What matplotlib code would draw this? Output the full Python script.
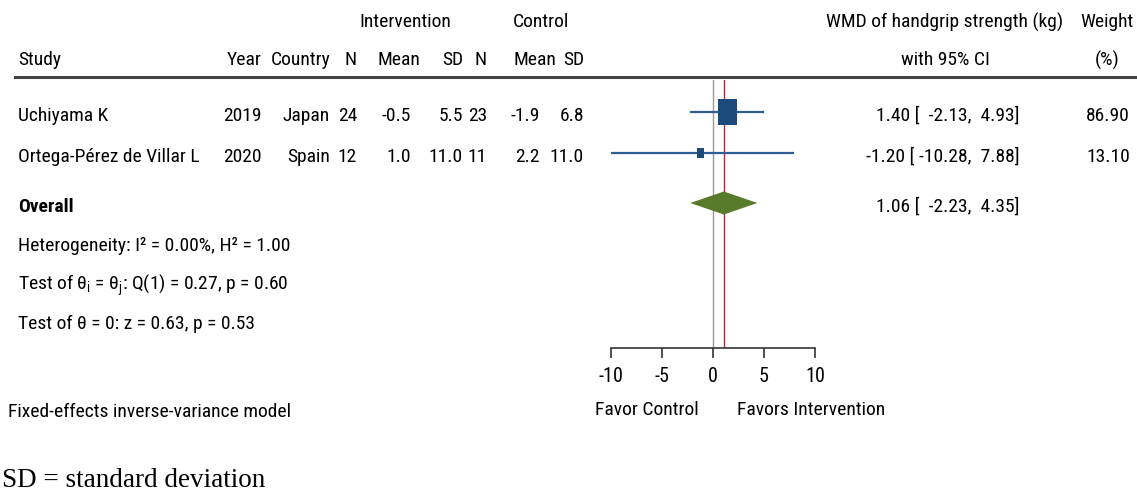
import matplotlib
matplotlib.use("Agg")
import matplotlib.pyplot as plt
from matplotlib.patches import Rectangle, Polygon
from matplotlib import font_manager as fm
import numpy as np

# ---------------- data ----------------
studies = ["Uchiyama K", "Ortega-Pérez de Villar L"]
years = [2019, 2020]
countries = ["Japan", "Spain"]
n_int = [24, 12]
mean_int = [-0.5, 1.0]
sd_int = [5.5, 11.0]
n_ctl = [23, 11]
mean_ctl = [-1.9, 2.2]
sd_ctl = [6.8, 11.0]
wmd = [1.40, -1.20]
ci_lo = [-2.13, -10.28]
ci_hi = [4.93, 7.88]
weights = [86.90, 13.10]
overall = 1.06
overall_lo = -2.23
overall_hi = 4.35
xticks = [-10, -5, 0, 5, 10]
het_text = "Heterogeneity: I² = 0.00%, H² = 1.00"
q_text = r"Test of θ$_\mathregular{i}$ = θ$_\mathregular{j}$: Q(1) = 0.27, p = 0.60"
z_text = "Test of θ = 0: z = 0.63, p = 0.53"
model_text = "Fixed-effects inverse-variance model"
note_text = "SD = standard deviation"

# ---------------- style ----------------
available = set(f.name for f in fm.fontManager.ttflist)
narrow = None
for cand in ["Roboto Condensed", "Liberation Sans Narrow", "Archivo Narrow", "PT Sans Narrow"]:
    if cand in available:
        narrow = cand
        break
FONT = ([narrow] if narrow else []) + ["Liberation Sans", "DejaVu Sans"]
plt.rcParams["font.family"] = FONT
plt.rcParams["mathtext.fontset"] = "custom"
plt.rcParams["mathtext.rm"] = FONT[0]
FS = 14 if narrow else 12

W, H = 1137, 494
fig = plt.figure(figsize=(W / 100, H / 100), dpi=100)
fig.patch.set_facecolor("white")

ax_t = fig.add_axes([0, 0, 1, 1])
ax_t.set_xlim(0, W)
ax_t.set_ylim(H, 0)
ax_t.axis("off")

x0p, x1p = 611, 815
y_top, y_axis = 80, 348
ax = fig.add_axes([x0p / W, 1 - y_axis / H, (x1p - x0p) / W, (y_axis - y_top) / H])
ax.set_xlim(-10, 10)
ax.set_ylim(y_axis, y_top)
ax.patch.set_alpha(0)
for s in ["top", "right", "left"]:
    ax.spines[s].set_visible(False)
ax.spines["bottom"].set_color("#333333")
ax.spines["bottom"].set_linewidth(1.2)
ax.set_yticks([])
ax.set_xticks(xticks)
ax.set_xticklabels([str(t) for t in xticks], fontsize=FS + 0.5)
ax.tick_params(axis="x", length=7, width=1.2, color="#333333", pad=7)

row_y = [112, 153]
overall_y = 203
px_per_unit = (x1p - x0p) / 20.0

ax.axvline(0, color="#999999", lw=1.0, zorder=1)
ax.axvline(overall, color="#c0203a", lw=1.0, zorder=1)

for i in range(len(studies)):
    ax.plot([ci_lo[i], ci_hi[i]], [row_y[i], row_y[i]], color="#2d5f93", lw=1.6, zorder=2)
    side_px = 2.05 * np.sqrt(weights[i])
    wdat = side_px / px_per_unit
    hpx = side_px * 1.4
    ax.add_patch(Rectangle((wmd[i] - wdat / 2, row_y[i] - hpx / 2), wdat, hpx,
                           facecolor="#1c4a7a", edgecolor="none", zorder=3))

dh = 11.5
ax.add_patch(Polygon([[overall_lo, overall_y], [overall, overall_y - dh],
                      [overall_hi, overall_y], [overall, overall_y + dh]],
                     closed=True, facecolor="#587a2b", edgecolor="none", zorder=3))

ax_t.plot([15, W], [77, 77], color="#444444", lw=2.2)

ax_t.text(405, 22, "Intervention", fontsize=FS, ha="center", va="center")
ax_t.text(541, 22, "Control", fontsize=FS, ha="center", va="center")
hy = 60
ax_t.text(18, hy, "Study", fontsize=FS, ha="left", va="center")
col_right = [262, 331, 357, 420, 463, 487, 556, 584]
col_head = ["Year", "Country", "N", "Mean", "SD", "N", "Mean", "SD"]
for x, t in zip(col_right, col_head):
    ax_t.text(x, hy, t, fontsize=FS, ha="right", va="center")
ax_t.text(945, 22, "WMD of handgrip strength (kg)", fontsize=FS, ha="center", va="center")
ax_t.text(945, hy, "with 95% CI", fontsize=FS, ha="center", va="center")
ax_t.text(1107, 22, "Weight", fontsize=FS, ha="center", va="center")
ax_t.text(1107, hy, "(%)", fontsize=FS, ha="center", va="center")

val_right = [262, 330, 357, 411, 463, 487, 540, 584]
for i in range(len(studies)):
    ty = row_y[i] + 4
    ax_t.text(18, ty, studies[i], fontsize=FS, ha="left", va="center")
    vals = [str(years[i]), countries[i], str(n_int[i]), f"{mean_int[i]:.1f}",
            f"{sd_int[i]:.1f}", str(n_ctl[i]), f"{mean_ctl[i]:.1f}", f"{sd_ctl[i]:.1f}"]
    for x, t in zip(val_right, vals):
        ax_t.text(x, ty, t, fontsize=FS, ha="right", va="center")
    ax_t.text(1020, ty, f"{wmd[i]:.2f} [{ci_lo[i]:7.2f}, {ci_hi[i]:5.2f}]",
              fontsize=FS, ha="right", va="center")
    ax_t.text(1130, ty, f"{weights[i]:.2f}", fontsize=FS, ha="right", va="center")

oy = overall_y + 4
ax_t.text(18, oy, "Overall", fontsize=FS, ha="left", va="center", fontweight="bold")
ax_t.text(1020, oy, f"{overall:.2f} [{overall_lo:7.2f}, {overall_hi:5.2f}]",
          fontsize=FS, ha="right", va="center")

ax_t.text(18, 246, het_text, fontsize=FS, ha="left", va="center")
ax_t.text(18, 285, q_text, fontsize=FS, ha="left", va="center")
ax_t.text(18, 324, z_text, fontsize=FS, ha="left", va="center")
ax_t.text(8, 412, model_text, fontsize=FS, ha="left", va="center")

ax_t.text(647, 410, "Favor Control", fontsize=FS, ha="center", va="center")
ax_t.text(811, 410, "Favors Intervention", fontsize=FS, ha="center", va="center")

ax_t.text(2, 480, note_text, fontsize=19.5, ha="left", va="center",
          family=["Liberation Serif", "DejaVu Serif"])

fig.savefig("out.png", dpi=100, facecolor="white")
